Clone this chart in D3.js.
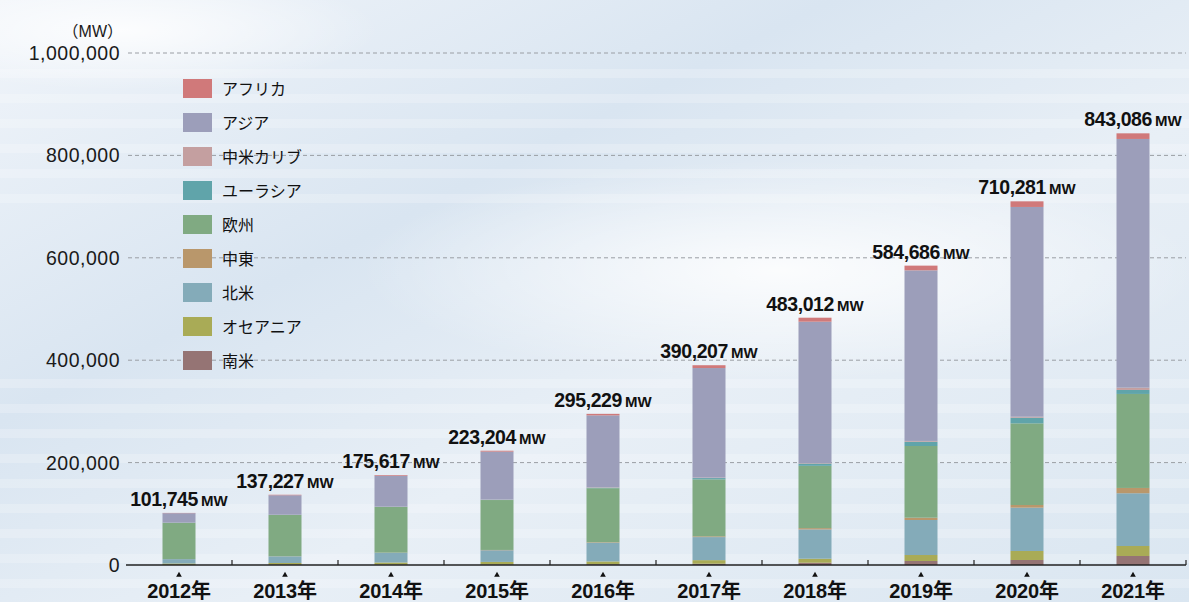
<!DOCTYPE html>
<html>
<head>
<meta charset="UTF-8">
<title>地域別 太陽光発電 累積導入量</title>
<script src="https://d3js.org/d3.v7.min.js"></script>
<style>
  body { margin: 0; overflow: hidden; }
  svg text { font-family: "Liberation Sans", "Noto Sans CJK JP", sans-serif; }
</style>
</head>
<body>
<svg></svg>
<script>
const width = 1189, height = 602;

// data (MW)
const years = ["2012年", "2013年", "2014年", "2015年", "2016年", "2017年", "2018年", "2019年", "2020年", "2021年"];
const totals = [101745, 137227, 175617, 223204, 295229, 390207, 483012, 584686, 710281, 843086];

const regions = ["南米", "オセアニア", "北米", "中東", "欧州", "ユーラシア", "中米カリブ", "アジア", "アフリカ"];
const regionColors = ["#957474", "#a9ab56", "#84abb9", "#b9976b", "#80aa82", "#60a4aa", "#c49fa0", "#9c9eba", "#d0797a"];

const southAmerica = [200, 400, 700, 1000, 1500, 2500, 4500, 7800, 9800, 17600];
const oceania      = [2800, 3500, 4200, 5000, 5500, 7000, 7800, 11700, 17600, 19500];
const northAmerica = [8500, 13000, 18900, 22800, 36500, 45000, 57200, 68400, 84600, 103000];
const middleEast   = [100, 200, 300, 600, 1000, 1500, 2500, 4500, 5200, 10400];
const europe       = [70900, 80700, 89200, 97500, 105500, 111300, 121700, 140000, 159500, 183600];
const eurasia      = [100, 200, 300, 500, 1000, 2500, 4500, 8400, 11000, 7800];
const centralAm    = [100, 200, 300, 500, 800, 1000, 1000, 1500, 2000, 4500];
const asia         = [18500, 38000, 60300, 93500, 140400, 213900, 276000, 333200, 409600, 485700];
const africa       = [500, 1000, 1400, 1800, 3000, 5500, 7800, 9200, 11000, 11000];

const series = [southAmerica, oceania, northAmerica, middleEast, europe, eurasia, centralAm, asia, africa];
const yTicks = [0, 200000, 400000, 600000, 800000, 1000000];

const rows = years.map((yr, i) => {
  const r = { year: yr };
  regions.forEach((g, k) => r[g] = series[k][i]);
  return r;
});

let svg = d3.select("svg").attr("width", width).attr("height", height);

// background
let defs = svg.append("defs");
let bg = defs.append("linearGradient").attr("id", "bg")
  .attr("x1", "0").attr("y1", "0").attr("x2", "1").attr("y2", "1");
bg.append("stop").attr("offset", "0%").attr("stop-color", "#f1f5fa");
bg.append("stop").attr("offset", "35%").attr("stop-color", "#d9e5f1");
bg.append("stop").attr("offset", "60%").attr("stop-color", "#e8eff6");
bg.append("stop").attr("offset", "100%").attr("stop-color", "#dae6f1");
let glow = defs.append("radialGradient").attr("id", "glow");
glow.append("stop").attr("offset", "0%").attr("stop-color", "#ffffff").attr("stop-opacity", 0.85);
glow.append("stop").attr("offset", "100%").attr("stop-color", "#ffffff").attr("stop-opacity", 0);

svg.append("rect").attr("width", width).attr("height", height).attr("fill", "url(#bg)");
svg.append("ellipse").attr("cx", 780).attr("cy", 270).attr("rx", 420).attr("ry", 110).attr("fill", "url(#glow)");
svg.append("ellipse").attr("cx", 120).attr("cy", 30).attr("rx", 260).attr("ry", 60).attr("fill", "url(#glow)");

// faint streaks standing in for the binary texture
let streaks = svg.append("g").attr("fill", "#ffffff").attr("opacity", 0.22);
[78, 103, 128, 153, 178, 203, 388, 413, 438, 463, 488, 513, 538, 563, 588].forEach(yy => {
  streaks.append("rect").attr("x", 0).attr("y", yy - 9).attr("width", width).attr("height", 9);
});

let x = d3.scaleBand().domain(years).range([126, 1186]);
let y = d3.scaleLinear().domain([0, 1000000]).range([565, 53]);
const barW = 33;

// grid
svg.append("g").selectAll("line")
  .data(yTicks.filter(d => d > 0))
  .join("line")
  .attr("x1", 128).attr("x2", 1186)
  .attr("y1", d => y(d)).attr("y2", d => y(d))
  .attr("stroke", "#9a9ea4").attr("stroke-width", 1)
  .attr("stroke-dasharray", "4,3");

// y labels
svg.append("g").selectAll("text")
  .data(yTicks)
  .join("text")
  .attr("x", 120).attr("y", d => y(d) + 7)
  .attr("text-anchor", "end")
  .style("font-size", "19.5px").style("letter-spacing", "0.5px")
  .attr("fill", "#1a1a1a")
  .text(d => d3.format(",")(d));

svg.append("text").attr("x", 123).attr("y", 37)
  .attr("text-anchor", "end").style("font-size", "16px").attr("fill", "#1a1a1a")
  .text("（MW）");

// stacked bars
let stack = d3.stack().keys(regions)(rows);
svg.append("g").selectAll("g")
  .data(stack)
  .join("g")
  .attr("fill", (d, i) => regionColors[i])
  .selectAll("rect")
  .data(d => d)
  .join("rect")
  .attr("x", d => x(d.data.year) + x.bandwidth() / 2 - barW / 2)
  .attr("width", barW)
  .attr("y", d => y(d[1]))
  .attr("height", d => y(d[0]) - y(d[1]));

// axis
let axis = svg.append("g");
axis.append("line").attr("x1", 126).attr("x2", 1186).attr("y1", 565).attr("y2", 565)
  .attr("stroke", "#222").attr("stroke-width", 1.5);
axis.selectAll(".tk")
  .data(years.slice(1).map(d => x(d)).concat([1186]))
  .join("line").attr("class", "tk")
  .attr("x1", d => d).attr("x2", d => d).attr("y1", 560).attr("y2", 565)
  .attr("stroke", "#222").attr("stroke-width", 1.2);
axis.selectAll("path")
  .data(years)
  .join("path")
  .attr("d", d3.symbol(d3.symbolTriangle).size(14))
  .attr("transform", d => "translate(" + (x(d) + x.bandwidth() / 2) + ",575)")
  .attr("fill", "#111");
axis.selectAll("text")
  .data(years)
  .join("text")
  .attr("x", d => x(d) + x.bandwidth() / 2).attr("y", 598)
  .attr("text-anchor", "middle")
  .style("font-size", "20px").style("font-weight", "bold").style("letter-spacing", "-0.2px")
  .attr("fill", "#111")
  .text(d => d);

// total labels
let tl = svg.append("g").selectAll("text")
  .data(years)
  .join("text")
  .attr("x", d => x(d) + x.bandwidth() / 2)
  .attr("y", (d, i) => y(totals[i]) - 7)
  .attr("text-anchor", "middle")
  .style("font-weight", "bold").attr("fill", "#111");
tl.append("tspan").style("font-size", "19.5px").style("letter-spacing", "-0.4px")
  .text((d, i) => d3.format(",")(totals[i]));
tl.append("tspan").attr("dx", 3).style("font-size", "15px")
  .text("MW");

// legend
let legend = svg.append("g").selectAll("g")
  .data(regions.slice().reverse())
  .join("g")
  .attr("transform", (d, i) => "translate(183," + (79 + i * 34) + ")");
legend.append("rect").attr("width", 29).attr("height", 19)
  .attr("fill", d => regionColors[regions.indexOf(d)]);
legend.append("text").attr("x", 39).attr("y", 15.5)
  .style("font-size", "16px").attr("fill", "#111")
  .text(d => d);
</script>
</body>
</html>
